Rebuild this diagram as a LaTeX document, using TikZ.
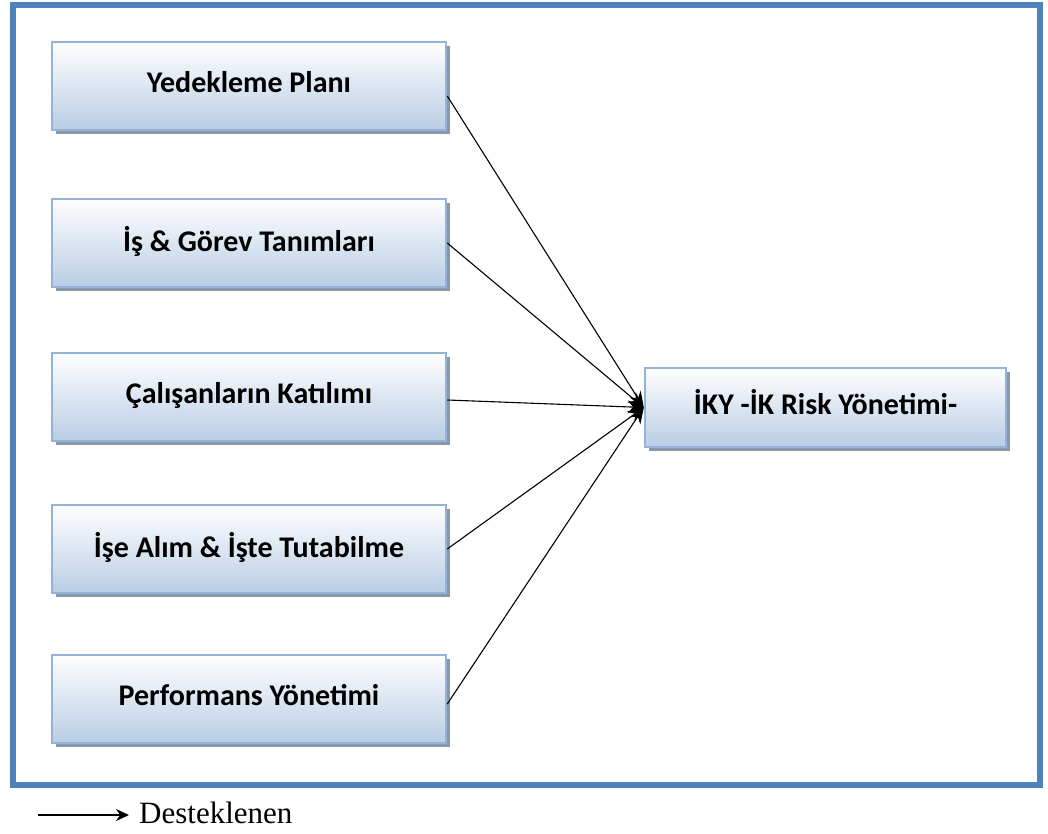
\documentclass[tikz,border=0pt]{standalone}
\usepackage{fontspec}
\setmainfont{Liberation Serif}
\newfontfamily\boxfont{Carlito}
\usetikzlibrary{arrows.meta,shadows}
\definecolor{frameblue}{HTML}{4F81BD}
\definecolor{boxborder}{HTML}{95B3D7}
\definecolor{boxbottom}{HTML}{B9CDE5}
\definecolor{shadowgray}{HTML}{8A98AB}
\tikzset{
  box/.style={draw=boxborder, line width=2.5pt, top color=white, bottom color=boxbottom,
    minimum width=394pt, minimum height=88pt, inner sep=0pt,
    font=\boxfont\bfseries\fontsize{30}{35}\selectfont,
    drop shadow={shadow xshift=4pt, shadow yshift=-4pt, fill=shadowgray, opacity=1}},
  conn/.style={line width=1.1pt, -{Stealth[length=16pt,width=13pt]}}
}
\begin{document}
\begin{tikzpicture}[x=1pt,y=-1pt]
\useasboundingbox (0,0) rectangle (1048,834);
\draw[frameblue, line width=6pt] (12.5,5) rectangle (1040,785);
\node[box] (b1) at (249,86) {\raisebox{9pt}{Yedekleme Planı}};
\node[box] (b2) at (249,243) {\raisebox{9pt}{İş \& Görev Tanımları}};
\node[box] (b3) at (249,397) {\raisebox{9pt}{Çalışanların Katılımı}};
\node[box] (b4) at (249,549) {\raisebox{9pt}{İşe Alım \& İşte Tutabilme}};
\node[box] (b5) at (249,699) {\raisebox{9pt}{Performans Yönetimi}};
\node[box, minimum width=361pt, minimum height=79pt] (t) at (825.5,407.5) {\raisebox{11pt}{İKY -İK Risk Yönetimi-}};
\draw[conn] ([yshift=-10pt]b1.east) -- (t.west);
\draw[conn] (b2.east) -- (t.west);
\draw[conn] ([yshift=-3pt]b3.east) -- (t.west);
\draw[conn] (b4.east) -- (t.west);
\draw[conn] ([yshift=-5pt]b5.east) -- (t.west);
\coordinate (la) at (38,815);
\node[anchor=west, inner sep=0pt, font=\fontsize{31}{36}\selectfont] (leg) at (139,813) {Desteklenen};
\draw[line width=1.8pt, -{Stealth[length=13pt,width=12pt]}] (la) -- ([xshift=-10pt]leg.west |- la);
\end{tikzpicture}
\end{document}
